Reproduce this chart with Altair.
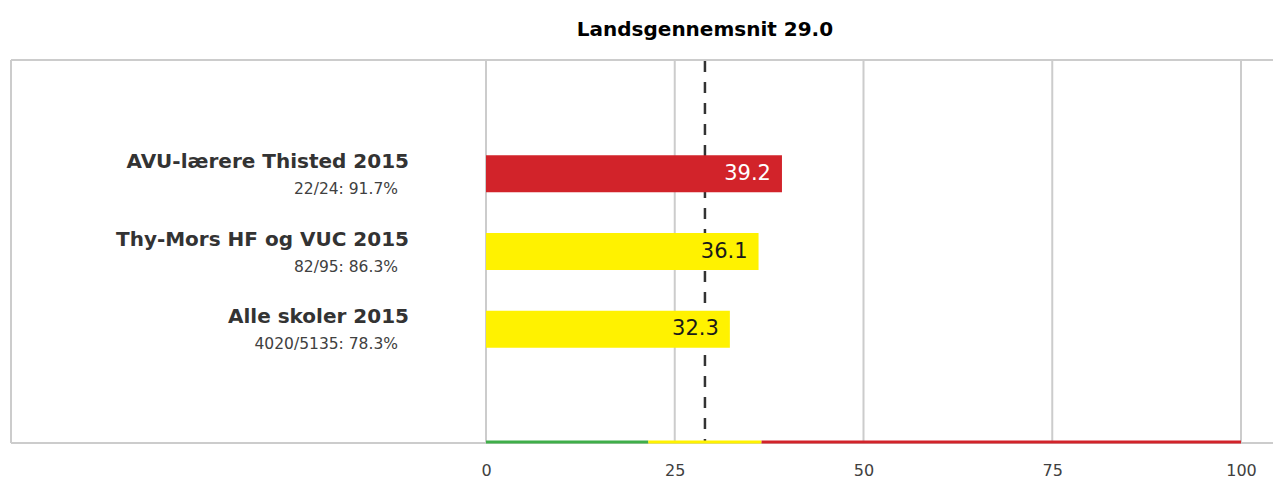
import altair as alt
import pandas as pd

# ---- data ----
names = ["AVU-lærere Thisted 2015", "Thy-Mors HF og VUC 2015", "Alle skoler 2015"]
subs = ["22/24: 91.7%", "82/95: 86.3%", "4020/5135: 78.3%"]
values = [39.2, 36.1, 32.3]
bar_colors = ["#d2232a", "#fff200", "#fff200"]
text_colors = ["#ffffff", "#1a1a1a", "#1a1a1a"]
positions = [1, 2, 3]
average = 29.0
band_start = [0, 21.5, 36.5]
band_end = [21.5, 36.5, 100]
band_colors = ["#3fae49", "#fff200", "#d2232a"]
tick_values = [0, 25, 50, 75, 100]

bars = pd.DataFrame({"name": names, "sub": subs, "value": values, "color": bar_colors,
                     "tcolor": text_colors, "pos": positions, "zero": [0] * 3,
                     "label": [f"{v:.1f}" for v in values]})
bands = pd.DataFrame({"start": band_start, "end": band_end, "color": band_colors})
avg_df = pd.DataFrame({"avg": [average], "title": [f"Landsgennemsnit {average:.1f}"]})

W, H = 1262, 383
xs = alt.Scale(domain=[-62.914, 104.238], nice=False, zero=False)
ys = alt.Scale(domain=[-0.4, 4.4], reverse=True, nice=False, zero=False)

FONT = "DejaVu Sans"
base = alt.Chart(bars)

grid = alt.Chart(pd.DataFrame({"t": tick_values})).mark_rule(color="#cccccc", strokeWidth=2).encode(
    x=alt.X("t:Q", scale=xs, axis=alt.Axis(values=tick_values, grid=False, domain=False, ticks=False,
                                           labelPadding=19, labelFontSize=16, labelColor="#404040",
                                           labelFont=FONT, title=None)),
    y=alt.value(0), y2=alt.value(H))

frame_top = alt.Chart(bars).mark_rule(color="#cccccc", strokeWidth=2).encode(
    x=alt.value(0), x2=alt.value(W + 5), y=alt.value(0))
frame_left = alt.Chart(bars).mark_rule(color="#cccccc", strokeWidth=2).encode(
    x=alt.value(0), y=alt.value(0), y2=alt.value(H))
frame_bottom = alt.Chart(bars).mark_rule(color="#cccccc", strokeWidth=2).encode(
    x=alt.value(0), x2=alt.value(W + 5), y=alt.value(H))

band = alt.Chart(bands).mark_rule(strokeWidth=3).encode(
    x=alt.X("start:Q", scale=xs), x2="end:Q", y=alt.value(H - 1),
    color=alt.Color("color:N", scale=None))

bar = base.mark_bar(size=37).encode(
    x=alt.X("zero:Q", scale=xs), x2="value:Q",
    y=alt.Y("pos:Q", scale=ys, axis=None),
    color=alt.Color("color:N", scale=None))

avg_line = alt.Chart(avg_df).mark_rule(color="#333333", strokeWidth=2.5, strokeDash=[11, 10]).encode(
    x=alt.X("avg:Q", scale=xs), y=alt.value(1), y2=alt.value(H - 2))

title = alt.Chart(avg_df).mark_text(fontSize=20, fontWeight="bold", font=FONT,
                                    color="#000000", baseline="middle").encode(
    x=alt.X("avg:Q", scale=xs), y=alt.value(-30), text="title:N")

vlabel = base.mark_text(align="right", baseline="middle", dx=-11, fontSize=21, font=FONT).encode(
    x=alt.X("value:Q", scale=xs), y=alt.Y("pos:Q", scale=ys),
    text="label:N", color=alt.Color("tcolor:N", scale=None))

name_lbl = base.mark_text(align="right", baseline="middle", dy=-12, fontSize=20, fontWeight="bold",
                          font=FONT, color="#333333").encode(
    x=alt.value(398), y=alt.Y("pos:Q", scale=ys), text="name:N")

sub_lbl = base.mark_text(align="right", baseline="middle", dy=15, fontSize=15.5,
                         font=FONT, color="#404040").encode(
    x=alt.value(387), y=alt.Y("pos:Q", scale=ys), text="sub:N")

chart = alt.layer(grid, frame_top, frame_left, avg_line, frame_bottom, bar, band, title,
                  vlabel, name_lbl, sub_lbl).properties(
    width=W, height=H, autosize="none",
    padding={"left": 3, "top": 52, "right": 0, "bottom": 35}
).configure_view(strokeWidth=0)

chart.save("out.html", embed_options={"renderer": "svg", "actions": False})
